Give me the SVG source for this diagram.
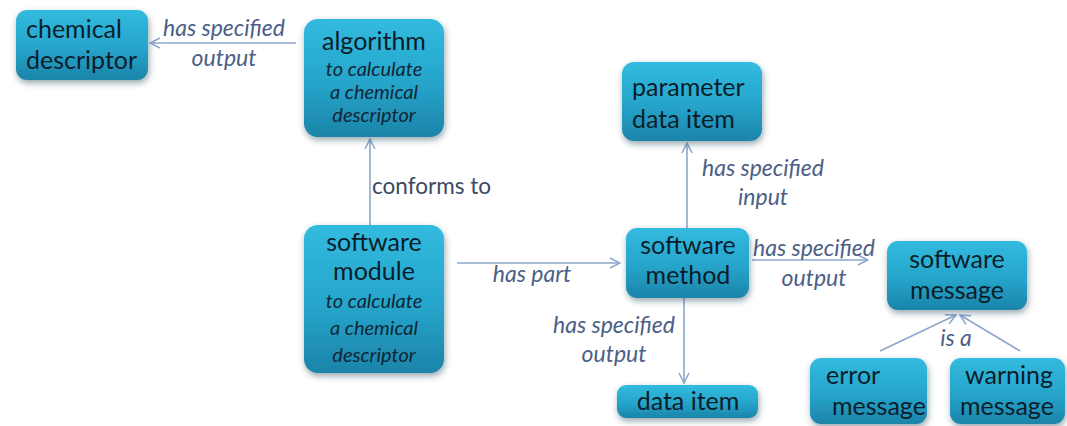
<svg xmlns="http://www.w3.org/2000/svg" width="1067" height="426" viewBox="0 0 1067 426">
  <defs>
    <linearGradient id="boxFill" x1="0" y1="0" x2="0" y2="1">
      <stop offset="0" stop-color="#32bbdf"/>
      <stop offset="0.55" stop-color="#26a4ca"/>
      <stop offset="1" stop-color="#1c84a9"/>
    </linearGradient>
    <filter id="shadow" x="-20%" y="-20%" width="140%" height="150%">
      <feDropShadow dx="1" dy="3" stdDeviation="3" flood-color="#1b3a4a" flood-opacity="0.45"/>
    </filter>
    <marker id="arrow" viewBox="0 0 12 12" refX="11" refY="6" markerWidth="12" markerHeight="12" markerUnits="userSpaceOnUse" orient="auto">
      <path d="M1,1 L11,6 L1,11" fill="none" stroke="#8da6cc" stroke-width="1.5"/>
    </marker>
  </defs>
  <style>
    .box { fill: url(#boxFill); filter: url(#shadow); }
    .title { font-family: Lato, "Open Sans", "Liberation Sans", sans-serif; font-size: 25px; fill: #0b1d2b; }
    .sub { font-family: Lato, "Open Sans", "Liberation Sans", sans-serif; font-size: 20px; font-style: italic; fill: #112637; }
    .edge { stroke: #8da6cc; stroke-width: 1.6; fill: none; marker-end: url(#arrow); }
    .lbl { font-family: Lato, "Open Sans", "Liberation Sans", sans-serif; font-size: 23px; font-style: italic; fill: #4c6086; }
    .lbl2 { font-family: Lato, "Open Sans", "Liberation Sans", sans-serif; font-size: 22.5px; fill: #3b4a61; }
  </style>
  <rect width="1067" height="426" fill="#ffffff"/>

  <!-- connectors -->
  <g id="connectors">
    <line class="edge" x1="296" y1="43" x2="150" y2="43"/>
    <line class="edge" x1="370" y1="225" x2="370" y2="139"/>
    <line class="edge" x1="457" y1="263" x2="620" y2="263"/>
    <line class="edge" x1="687" y1="228" x2="687" y2="143"/>
    <line class="edge" x1="752" y1="260" x2="868" y2="260"/>
    <line class="edge" x1="684" y1="298" x2="684" y2="383"/>
    <line class="edge" x1="880" y1="351" x2="956" y2="315"/>
    <line class="edge" x1="1020" y1="351" x2="960" y2="315"/>
    <g text-anchor="middle">
      <text class="lbl" x="224" y="36">has specified</text>
      <text class="lbl" x="224" y="66">output</text>
      <text class="lbl2" x="372" y="194" text-anchor="start">conforms to</text>
      <text class="lbl" x="532" y="282">has part</text>
      <text class="lbl" x="763" y="176">has specified</text>
      <text class="lbl" x="763" y="205">input</text>
      <text class="lbl" x="814" y="256">has specified</text>
      <text class="lbl" x="814" y="286">output</text>
      <text class="lbl" x="614" y="333">has specified</text>
      <text class="lbl" x="614" y="362">output</text>
      <text class="lbl" x="956" y="346">is a</text>
    </g>
  </g>

  <g id="chemical-descriptor">
    <rect class="box" x="16" y="10" width="132" height="70" rx="11"/>
    <text class="title" x="26" y="38">chemical</text>
    <text class="title" x="26" y="69">descriptor</text>
  </g>

  <g id="algorithm" text-anchor="middle">
    <rect class="box" x="304" y="19" width="140" height="118" rx="14"/>
    <text class="title" x="374" y="50">algorithm</text>
    <text class="sub" x="374" y="76">to calculate</text>
    <text class="sub" x="374" y="99">a chemical</text>
    <text class="sub" x="374" y="122">descriptor</text>
  </g>

  <g id="software-module" text-anchor="middle">
    <rect class="box" x="304" y="225" width="140" height="148" rx="14"/>
    <text class="title" x="374" y="251">software</text>
    <text class="title" x="374" y="280">module</text>
    <text class="sub" x="374" y="308">to calculate</text>
    <text class="sub" x="374" y="335">a chemical</text>
    <text class="sub" x="374" y="362">descriptor</text>
  </g>

  <g id="parameter-data-item">
    <rect class="box" x="622" y="62" width="140" height="79" rx="12"/>
    <text class="title" x="632" y="96">parameter</text>
    <text class="title" x="632" y="128">data item</text>
  </g>

  <g id="software-method" text-anchor="middle">
    <rect class="box" x="626" y="228" width="123" height="70" rx="11"/>
    <text class="title" x="688" y="254">software</text>
    <text class="title" x="688" y="284">method</text>
  </g>

  <g id="data-item" text-anchor="middle">
    <rect class="box" x="617" y="385" width="141" height="33" rx="9"/>
    <text class="title" x="688" y="410">data item</text>
  </g>

  <g id="software-message" text-anchor="middle">
    <rect class="box" x="887" y="241" width="140" height="69" rx="11"/>
    <text class="title" x="957" y="268">software</text>
    <text class="title" x="957" y="299">message</text>
  </g>

  <g id="error-message">
    <rect class="box" x="810" y="358" width="117" height="66" rx="11"/>
    <text class="title" x="826" y="384">error</text>
    <text class="title" x="832" y="415">message</text>
  </g>

  <g id="warning-message">
    <rect class="box" x="950" y="358" width="115" height="66" rx="11"/>
    <text class="title" x="965" y="384">warning</text>
    <text class="title" x="960" y="415">message</text>
  </g>
</svg>
